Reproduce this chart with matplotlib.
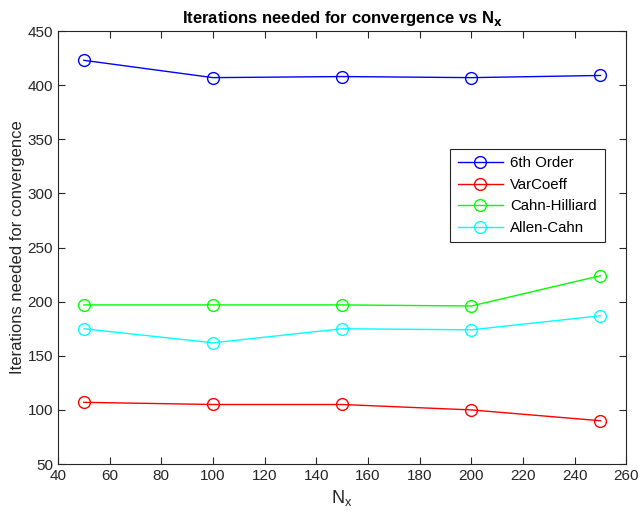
import matplotlib
matplotlib.use('Agg')
import matplotlib.pyplot as plt

plt.rcParams['font.family'] = ['Liberation Sans', 'DejaVu Sans']

nx = [50, 100, 150, 200, 250]
sixth_order = [423, 407, 408, 407, 409]
var_coeff = [107, 105, 105, 100, 90]
cahn_hilliard = [197, 197, 197, 196, 224]
allen_cahn = [175, 162, 175, 174, 187]

series = [
    ('6th Order', sixth_order, '#0000ff'),
    ('VarCoeff', var_coeff, '#ff0000'),
    ('Cahn-Hilliard', cahn_hilliard, '#00ff00'),
    ('Allen-Cahn', allen_cahn, '#00ffff'),
]

fig = plt.figure(figsize=(6.41, 5.27), dpi=100, facecolor='white')
ax = fig.add_axes([0.0905, 0.1195, 0.8865, 0.8215])

for name, vals, col in series:
    ax.plot(nx, vals, color=col, marker='o', markersize=8.5, markerfacecolor='none',
            markeredgecolor=col, linewidth=1, label=name)

ax.set_xlim(40, 260)
ax.set_ylim(50, 450)
ax.set_xticks(range(40, 261, 20))
ax.set_yticks(range(50, 451, 50))

dark = '#262626'
ax.tick_params(direction='in', top=True, right=True, labelsize=11, colors=dark, length=5)
for sp in ax.spines.values():
    sp.set_color(dark)
    sp.set_linewidth(0.8)

ax.set_xlabel('N$_\\mathregular{x}$', fontsize=13, color=dark)
ax.set_ylabel('Iterations needed for convergence', fontsize=12, color=dark, labelpad=2)
ax.set_title('Iterations needed for convergence vs N$_\\mathbf{x}$', fontsize=12,
             fontweight='bold', color='black', pad=6)

leg = ax.legend(loc='upper right', bbox_to_anchor=(0.975, 0.745), fontsize=10.8,
                fancybox=False, framealpha=1, edgecolor=dark, handlelength=3.0,
                borderpad=0.5, labelspacing=0.5, handletextpad=0.5)
leg.get_frame().set_linewidth(0.8)

plt.savefig('out.png', dpi=100)
